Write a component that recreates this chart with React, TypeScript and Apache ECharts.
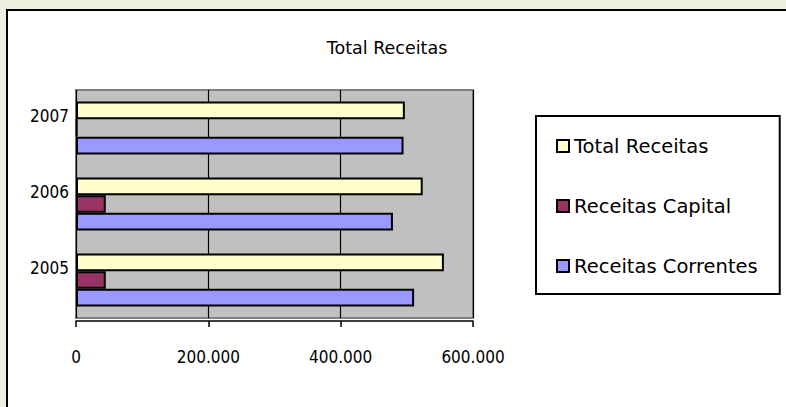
import React, { useEffect, useRef } from "react";
import * as echarts from "echarts";

const categories = ["2005", "2006", "2007"];
const receitasCorrentes = [511000, 479000, 495000];
const receitasCapital = [45000, 45000, 2000];
const totalReceitas = [556000, 524000, 497000];
const xTicks = [0, 200000, 400000, 600000];

const fmt = (v: number) => String(v).replace(/\B(?=(\d{3})+(?!\d))/g, ".");

const narrow = "'Liberation Sans Narrow', 'Arial Narrow', 'DejaVu Sans Condensed', sans-serif";
const sans = "'DejaVu Sans', Verdana, sans-serif";

export default function App() {
  const ref = useRef<HTMLDivElement>(null);
  useEffect(() => {
    if (!ref.current) return;
    const chart = echarts.init(ref.current, undefined, { renderer: "svg" });
    const barStyle = (color: string) => ({ color, borderColor: "#000", borderWidth: 2 });
    chart.setOption({
      animation: false,
      title: {
        text: "Total Receitas",
        left: 382,
        top: 34,
        textAlign: "center",
        textStyle: { fontFamily: sans, fontSize: 17.5, fontWeight: "normal", color: "#000" },
      },
      legend: {
        orient: "vertical",
        left: 536,
        top: 116,
        padding: [20, 22, 18, 20],
        borderColor: "#000",
        borderWidth: 2,
        itemGap: 40,
        itemWidth: 12,
        itemHeight: 12,
        icon: "rect",
        data: ["Total Receitas", "Receitas Capital", "Receitas Correntes"],
        textStyle: { fontFamily: sans, fontSize: 19.5, color: "#000" },
      },
      grid: {
        left: 76,
        right: 313,
        top: 90,
        bottom: 89,
        show: true,
        backgroundColor: "#C0C0C0",
        borderColor: "#808080",
        borderWidth: 2,
      },
      xAxis: {
        type: "value",
        min: xTicks[0],
        max: xTicks[xTicks.length - 1],
        interval: xTicks[1] - xTicks[0],
        offset: 3,
        axisLine: { show: true, lineStyle: { color: "#000", width: 1.5 } },
        axisTick: { show: true, length: 6, lineStyle: { color: "#000", width: 1.5 } },
        splitLine: { show: true, lineStyle: { color: "#000", width: 1.2 } },
        axisLabel: {
          margin: 27,
          fontFamily: narrow,
          fontSize: 17,
          color: "#000",
          formatter: (v: number) => fmt(v),
        },
      },
      yAxis: {
        type: "category",
        data: categories,
        axisLine: { show: false },
        axisTick: { show: false },
        axisLabel: {
          margin: 7,
          fontFamily: narrow,
          fontSize: 17,
          lineHeight: 25,
          color: "#000",
          formatter: (v: string) => v + "\n ",
        },
      },
      series: [
        {
          name: "Total Receitas",
          type: "bar",
          data: totalReceitas,
          itemStyle: barStyle("#FFFFCC"),
          barGap: "0%",
          barCategoryGap: "30%",
        },
        {
          name: "Receitas Capital",
          type: "bar",
          data: receitasCapital,
          itemStyle: barStyle("#993366"),
          barGap: "0%",
          barCategoryGap: "30%",
        },
        {
          name: "Receitas Correntes",
          type: "bar",
          data: receitasCorrentes,
          itemStyle: barStyle("#9999FF"),
          barGap: "0%",
          barCategoryGap: "30%",
        },
      ],
    });
    return () => chart.dispose();
  }, []);

  return (
    <div
      style={{
        position: "fixed",
        left: 0,
        top: 0,
        width: 786,
        height: 407,
        background: "#EBF1DE",
        overflow: "hidden",
      }}
    >
      <div
        style={{
          position: "absolute",
          left: 6,
          top: 9,
          width: 800,
          height: 420,
          background: "#FFFFFF",
          border: "2px solid #000",
          boxSizing: "border-box",
        }}
      />
      <div ref={ref} style={{ position: "absolute", left: 0, top: 0, width: 786, height: 407 }} />
    </div>
  );
}
